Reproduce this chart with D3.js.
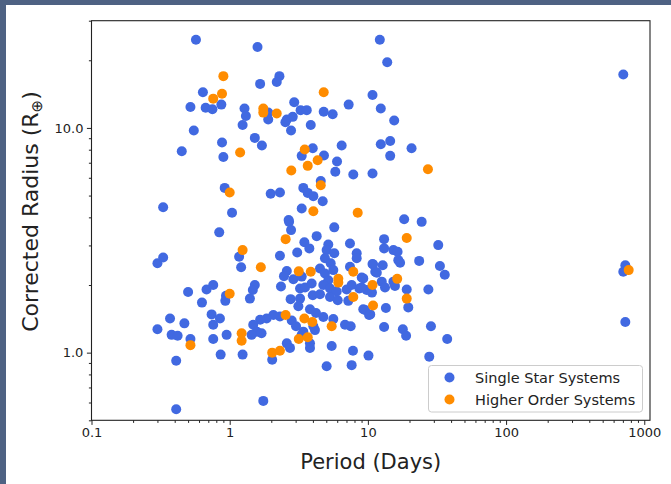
<!DOCTYPE html>
<html>
<head>
<meta charset="utf-8">
<script src="https://cdn.jsdelivr.net/npm/d3@7"></script>
<style>
  html, body { margin: 0; padding: 0; background: #ffffff; }
  svg { display: block; }
  text { font-family: "DejaVu Sans", sans-serif; fill: #222; }
</style>
</head>
<body>
<svg id="chart" width="671" height="484"></svg>
<script>
// Single-star systems: orbital period (days) and corrected planet radius (Earth radii)
const singlePeriod = [
  0.57, 1.59, 12.2, 2.29, 2.19, 1.66, 0.64, 10.8, 0.52, 0.67, 0.75, 0.87, 1.28, 1.31, 1.24,
  1.90, 1.90, 2.93, 3.26, 3.61, 2.59, 2.86, 2.53, 2.78, 3.86, 4.79, 5.56, 7.26, 12.4, 0.55,
  0.88, 1.52, 1.71, 0.45, 0.90, 3.99, 3.32, 4.81, 5.98, 5.81, 6.46, 7.84, 10.8, 12.4, 4.56,
  0.92, 1.98, 2.31, 3.41, 3.67, 4.03, 4.71, 0.33, 1.04, 3.32, 2.67, 13.8, 15.5, 14.5, 20.7,
  14.5, 705, 18.3, 24.5, 2.69, 2.78, 0.84, 5.71, 4.26, 3.47, 3.77, 5.17, 5.03, 5.71, 4.89,
  5.38, 7.42, 8.30, 8.30, 3.08, 2.31, 1.17, 1.21, 0.30, 0.33, 10.8, 7.42, 2.59, 2.47, 2.89,
  3.32, 4.50, 4.89, 5.62, 5.17, 9.02, 11.3, 2.35, 3.23, 3.51, 3.92, 4.76, 5.32, 5.95, 7.02,
  7.63, 8.67, 9.80, 3.99, 4.50, 5.32, 6.05, 7.21, 2.76, 3.23, 3.14, 9.26, 10.2, 3.81, 4.21,
  4.76, 5.62, 6.83, 7.51, 2.31, 2.07, 1.85, 1.66, 2.81, 3.02, 3.41, 4.03, 4.14, 1.48, 1.57,
  1.44, 1.70, 3.32, 3.81, 3.81, 2.59, 2.73, 5.47, 2.03, 7.80, 10.1, 5.03, 7.63, 1.75, 0.50,
  0.68, 0.76, 0.63, 0.94, 0.93, 1.52, 1.47, 1.40, 0.74, 0.85, 0.76, 0.37, 0.47, 0.30, 0.38,
  0.42, 0.52, 0.76, 0.95, 0.86, 1.24, 0.41, 0.41, 13.1, 13.1, 15.3, 16.4, 32.3, 16.6, 17.1,
  23.5, 10.9, 12.8, 11.6, 33.2, 36.0, 9.26, 9.02, 12.6, 13.3, 15.3, 15.7, 19.1, 27.4, 10.7,
  19.6, 9.53, 10.4, 13.5, 13.1, 17.9, 18.9, 28.6, 37.5, 27.8, 729, 705, 729
];
const singleRadius = [
  24.7, 22.9, 24.7, 17.0, 16.0, 15.7, 14.4, 14.0, 12.4, 12.3, 12.1, 12.7, 12.2, 11.3, 10.3,
  11.7, 10.9, 13.0, 12.0, 12.0, 10.9, 11.2, 10.6, 9.74, 10.3, 11.8, 11.5, 12.7, 12.2, 9.74,
  8.61, 9.03, 8.35, 7.88, 7.43, 8.12, 7.51, 7.54, 7.09, 6.38, 8.35, 6.21, 6.27, 8.46, 5.80,
  5.41, 5.09, 5.16, 5.41, 5.14, 4.97, 4.72, 4.44, 4.19, 4.38, 3.89, 19.6, 10.8, 8.75, 8.12,
  7.51, 17.3, 3.92, 3.82, 3.82, 3.51, 3.43, 3.61, 3.30, 3.10, 2.91, 3.03, 2.86, 2.77, 2.63,
  2.50, 3.06, 2.77, 2.63, 2.79, 2.70, 2.67, 2.40, 2.50, 2.65, 2.48, 2.41, 2.31, 2.19, 2.12,
  2.18, 2.37, 2.25, 2.33, 2.10, 2.16, 2.29, 1.97, 1.93, 1.95, 2.03, 2.00, 1.93, 1.87, 1.91,
  2.00, 1.93, 1.90, 1.80, 1.82, 1.77, 1.71, 1.70, 1.73, 1.74, 1.61, 1.56, 1.47, 1.56, 1.50,
  1.44, 1.41, 1.33, 1.31, 1.45, 1.47, 1.42, 1.40, 1.39, 1.31, 1.24, 1.31, 1.26, 1.33, 1.24,
  1.20, 1.22, 1.20, 1.10, 1.05, 1.10, 1.05, 1.07, 0.93, 1.02, 0.97, 0.87, 0.88, 0.61, 1.86,
  1.91, 2.00, 1.67, 1.79, 1.70, 2.00, 1.90, 1.74, 1.48, 1.42, 1.33, 1.42, 1.35, 1.27, 1.20,
  1.19, 1.15, 1.15, 1.20, 0.98, 0.98, 0.92, 0.56, 3.20, 2.91, 2.86, 2.81, 3.01, 2.58, 2.51,
  2.56, 2.47, 2.45, 2.27, 2.43, 2.22, 2.14, 1.95, 2.07, 1.95, 2.07, 1.98, 1.91, 1.91, 1.85,
  1.59, 1.55, 1.48, 1.58, 1.30, 1.27, 1.19, 1.31, 1.15, 0.96, 2.45, 2.29, 1.37
];

// Higher-order (multiple-star) systems
const higherPeriod = [
  0.90, 0.88, 0.76, 4.79, 1.75, 1.75, 2.19, 1.19, 3.49, 4.33, 3.67, 2.79, 4.56, 1.00, 4.03,
  8.44, 27.2, 2.54, 1.24, 1.68, 3.16, 3.86, 6.11, 6.11, 7.84, 10.8, 7.84, 10.9, 2.54, 3.47,
  3.96, 5.47, 1.22, 1.22, 3.16, 3.67, 2.03, 2.31, 1.00, 0.52, 19.1, 16.3, 19.1, 771
];
const higherRadius = [
  17.0, 14.2, 13.5, 14.4, 12.2, 11.7, 11.6, 7.77, 8.02, 7.18, 6.78, 6.47, 5.56, 5.16, 4.26,
  4.19, 6.55, 3.20, 2.86, 2.40, 2.30, 2.29, 2.13, 2.05, 2.29, 2.00, 1.77, 1.62, 1.47, 1.42,
  1.37, 1.31, 1.22, 1.13, 1.15, 1.17, 1.00, 1.02, 1.83, 1.08, 3.24, 2.13, 1.74, 2.33
];

const seriesNames = ["Single Star Systems", "Higher Order Systems"];
const seriesColors = ["#4169e1", "#ff8c00"];

const xTickValues = [0.1, 1, 10, 100, 1000];
const xTickLabels = ["0.1", "1", "10", "100", "1000"];
const yTickValues = [1, 10];
const yTickLabels = ["1.0", "10.0"];

const xTitle = "Period (Days)";
const yTitle = "Corrected Radius (R";
const yTitleSub = "\u2295";

// ---- layout ----
const W = 671, H = 484;
const plot = { left: 91.5, right: 650, top: 20.7, bottom: 420.3 };

const svg = d3.select("#chart");

// window frame around the figure
svg.append("rect").attr("x", 0).attr("y", 0).attr("width", W).attr("height", H).attr("fill", "#4e6283");
svg.append("rect").attr("x", 6).attr("y", 5).attr("width", W - 6).attr("height", H - 5).attr("fill", "#ffffff");

const x = d3.scaleLog().domain([0.1, 1100]).range([plot.left, plot.right]);
const y = d3.scaleLog().domain([0.5, 30]).range([plot.bottom, plot.top]);

// minor tick positions (2..9 of each decade inside the domain)
function minorTicks(scale) {
  const [a, b] = scale.domain();
  const out = [];
  for (let e = Math.floor(Math.log10(a)); e <= Math.ceil(Math.log10(b)); e++) {
    for (let m = 2; m <= 9; m++) {
      const v = m * Math.pow(10, e);
      if (v >= a && v <= b) out.push(v);
    }
  }
  return out;
}

const xMinor = d3.axisBottom(x).tickValues(minorTicks(x)).tickSize(2.6).tickFormat("");
const xMajor = d3.axisBottom(x).tickValues(xTickValues).tickSize(4.6)
  .tickPadding(3).tickFormat((d, i) => xTickLabels[i]);
const yMinor = d3.axisLeft(y).tickValues(minorTicks(y)).tickSize(2.6).tickFormat("");
const yMajor = d3.axisLeft(y).tickValues(yTickValues).tickSize(4.6)
  .tickPadding(3.5).tickFormat((d, i) => yTickLabels[i]);

function styleAxis(g) {
  g.select(".domain").remove();
  g.selectAll(".tick line").attr("stroke", "#222").attr("stroke-width", 1);
  g.selectAll(".tick text").attr("fill", "#222").style("font-size", "13px")
    .style("font-family", "'DejaVu Sans', sans-serif");
}

svg.append("g").attr("transform", `translate(0,${plot.bottom})`).call(xMinor).call(styleAxis);
svg.append("g").attr("transform", `translate(0,${plot.bottom})`).call(xMajor).call(styleAxis);
svg.append("g").attr("transform", `translate(${plot.left},0)`).call(yMinor).call(styleAxis);
svg.append("g").attr("transform", `translate(${plot.left},0)`).call(yMajor).call(styleAxis);

// points
const clipId = "plot-clip";
svg.append("clipPath").attr("id", clipId).append("rect")
  .attr("x", plot.left).attr("y", plot.top)
  .attr("width", plot.right - plot.left).attr("height", plot.bottom - plot.top);

const pts = svg.append("g").attr("clip-path", `url(#${clipId})`);
const single = singlePeriod.map((p, i) => ({ p, r: singleRadius[i] }));
const higher = higherPeriod.map((p, i) => ({ p, r: higherRadius[i] }));

pts.append("g").selectAll("circle").data(single).join("circle")
  .attr("cx", d => x(d.p)).attr("cy", d => y(d.r)).attr("r", 5)
  .attr("fill", seriesColors[0]);
pts.append("g").selectAll("circle").data(higher).join("circle")
  .attr("cx", d => x(d.p)).attr("cy", d => y(d.r)).attr("r", 5)
  .attr("fill", seriesColors[1]);

// axes frame
svg.append("rect")
  .attr("x", plot.left).attr("y", plot.top)
  .attr("width", plot.right - plot.left).attr("height", plot.bottom - plot.top)
  .attr("fill", "none").attr("stroke", "#222").attr("stroke-width", 1.1);

// axis titles
svg.append("text")
  .attr("x", (plot.left + plot.right) / 2).attr("y", 469)
  .attr("text-anchor", "middle").style("font-size", "21px")
  .text(xTitle);

const yt = svg.append("text")
  .attr("transform", `translate(38,${(plot.top + plot.bottom) / 2 - 9}) rotate(-90)`)
  .attr("text-anchor", "middle").style("font-size", "22px");
yt.append("tspan").text(yTitle);
yt.append("tspan").text(yTitleSub).attr("dy", 3.5).style("font-size", "15px");
yt.append("tspan").text(")").attr("dy", -3.5);

// legend
const lg = svg.append("g");
lg.append("rect")
  .attr("x", 428.5).attr("y", 365.5).attr("width", 214).attr("height", 46.5)
  .attr("rx", 3).attr("fill", "#ffffff").attr("fill-opacity", 0.85)
  .attr("stroke", "#cccccc").attr("stroke-width", 1);
seriesNames.forEach((name, i) => {
  const cy = 377.5 + i * 22;
  lg.append("circle").attr("cx", 449.5).attr("cy", cy).attr("r", 5).attr("fill", seriesColors[i]);
  lg.append("text").attr("x", 475).attr("y", cy + 5)
    .style("font-size", "14.5px").text(name);
});
</script>
</body>
</html>
